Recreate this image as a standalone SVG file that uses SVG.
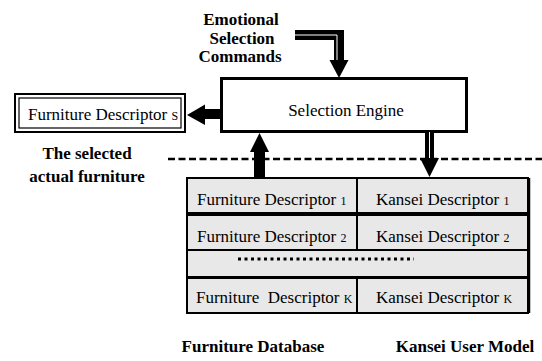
<svg xmlns="http://www.w3.org/2000/svg" width="542" height="361" viewBox="0 0 542 361">
<style>
.t{font-family:"Liberation Serif","Times New Roman",serif;font-size:17px;fill:#000}
.b{font-family:"Liberation Serif","Times New Roman",serif;font-size:17px;font-weight:bold;fill:#000}
.sub{font-size:12px}
.row{fill:#e8e8e8;stroke:#000;stroke-width:2}
</style>
<rect width="542" height="361" fill="#fff"/>

<g id="labels">
<text class="b" text-anchor="middle" x="241" y="25">Emotional</text>
<text class="b" text-anchor="middle" x="242" y="44">Selection</text>
<text class="b" text-anchor="middle" x="240" y="62">Commands</text>
<text class="b" text-anchor="middle" x="87" y="159">The selected</text>
<text class="b" text-anchor="middle" x="87" y="182">actual furniture</text>
<text class="b" text-anchor="middle" x="253" y="352">Furniture Database</text>
<text class="b" text-anchor="middle" x="465" y="352">Kansei User Model</text>
</g>

<g id="selection-engine">
<rect x="221.5" y="78.5" width="245" height="53" fill="#fff" stroke="#000" stroke-width="3"/>
<text class="t" text-anchor="middle" x="346" y="116">Selection Engine</text>
</g>

<g id="furniture-s">
<rect x="15" y="94" width="170" height="38" fill="#fff" stroke="#000" stroke-width="2"/>
<rect x="19" y="98" width="162" height="30" fill="none" stroke="#000" stroke-width="1.2"/>
<text class="t" x="28" y="120">Furniture Descriptor <tspan class="sub">S</tspan></text>
</g>

<g id="row1">
<rect class="row" x="187" y="178" width="341" height="35"/>
<line x1="357" y1="178" x2="357" y2="213" stroke="#000" stroke-width="2"/>
<text class="t" x="197" y="205">Furniture Descriptor <tspan class="sub">1</tspan></text>
<text class="t" x="376" y="205">Kansei Descriptor <tspan class="sub">1</tspan></text>
</g>
<g id="row2">
<rect class="row" x="187" y="215" width="341" height="35"/>
<line x1="357" y1="215" x2="357" y2="250" stroke="#000" stroke-width="2"/>
<text class="t" x="197" y="242">Furniture Descriptor <tspan class="sub">2</tspan></text>
<text class="t" x="376" y="242">Kansei Descriptor <tspan class="sub">2</tspan></text>
</g>
<g id="row-dots">
<rect class="row" x="187" y="250" width="341" height="27"/>
<line x1="238" y1="259" x2="414" y2="259" stroke="#000" stroke-width="3" stroke-dasharray="3 3.5"/>
</g>
<g id="rowK">
<rect class="row" x="187" y="278" width="341" height="35"/>
<line x1="357" y1="278" x2="357" y2="313" stroke="#000" stroke-width="2"/>
<text class="t" x="196" y="303" xml:space="preserve">Furniture  Descriptor <tspan class="sub">K</tspan></text>
<text class="t" x="376" y="303">Kansei Descriptor <tspan class="sub">K</tspan></text>
</g>
<line x1="529.5" y1="178" x2="529.5" y2="313" stroke="#000" stroke-width="1.5"/>

<g id="connectors">
<line x1="168" y1="159" x2="542" y2="159" stroke="#000" stroke-width="2.5" stroke-dasharray="7 3.5"/>
<polyline points="295,35 339,35 339,61" fill="none" stroke="#000" stroke-width="10"/>
<polyline points="295,35 337,35 337,61" fill="none" stroke="#fff" stroke-width="1"/>
<polygon points="329.5,60 348.5,60 339,78"/>
<line x1="429.5" y1="132" x2="429.5" y2="159" stroke="#000" stroke-width="9"/>
<line x1="429.5" y1="132" x2="429.5" y2="159" stroke="#fff" stroke-width="1"/>
<polygon points="420,158 439,158 429.5,177"/>
<rect x="254" y="151" width="11" height="27"/>
<polygon points="250,152 269,152 259.5,133"/>
<rect x="204" y="109" width="18" height="10"/>
<polygon points="205,104.5 205,125 187,115"/>
</g>
</svg>
